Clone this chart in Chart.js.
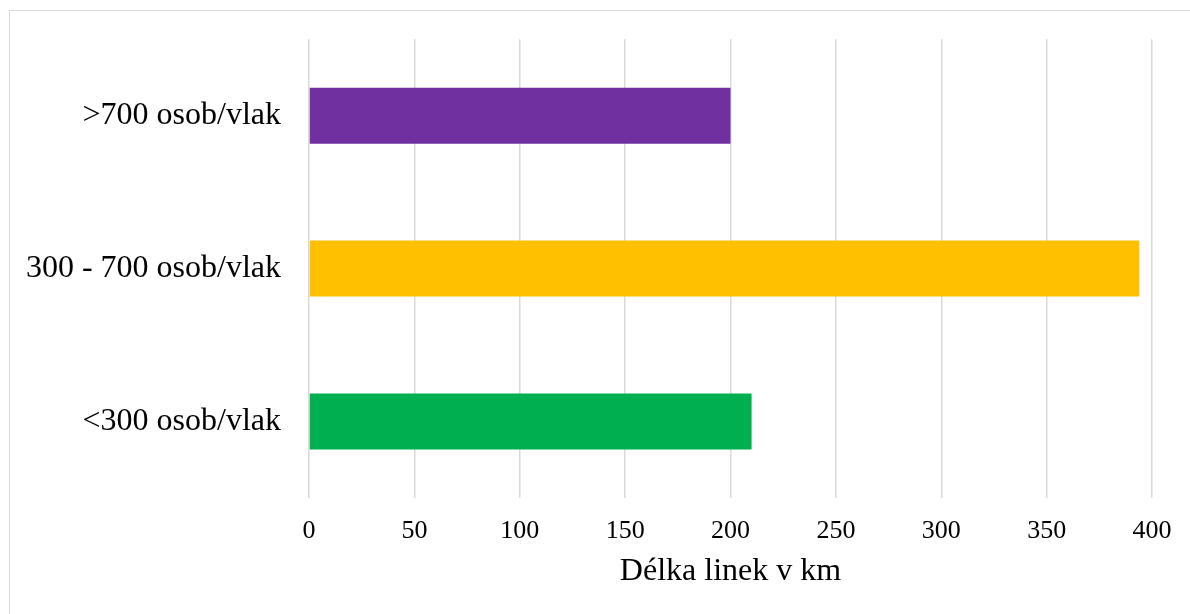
<!DOCTYPE html>
<html>
<head>
<meta charset="utf-8">
<script src="https://cdn.jsdelivr.net/npm/chart.js@4/dist/chart.umd.min.js"></script>
<style>
    body { margin: 0; background: #fff; }
    #wrap { position: relative; width: 1190px; height: 614px; overflow: hidden; }
    #frame { position: absolute; left: 9px; top: 10px; width: 1200px; height: 620px; border-left: 1px solid #d9d9d9; border-top: 1px solid #d9d9d9; pointer-events: none; }
</style>
</head>
<body>
<div id="wrap">
    <canvas id="lineChart" width="1190" height="614"></canvas>
    <div id="frame"></div>
</div>
<script>
const categories = ['>700 osob/vlak', '300 - 700 osob/vlak', '<300 osob/vlak'];
const lengths = [200, 394, 210];
const barColors = ['#7030A0', '#FFC000', '#00B050'];
const axisTitle = 'Délka linek v km';

const serif = "'Liberation Serif', 'Times New Roman', serif";

new Chart(document.getElementById('lineChart').getContext('2d'), {
    type: 'bar',
    data: {
        labels: categories,
        datasets: [{
            label: axisTitle,
            data: lengths,
            backgroundColor: barColors,
            borderWidth: 0,
            categoryPercentage: 1,
            barPercentage: 0.366,
        }]
    },
    options: {
        indexAxis: 'y',
        responsive: false,
        animation: false,
        layout: { padding: { top: 20, right: 38, left: 0, bottom: 0 } },
        plugins: { legend: { display: false }, tooltip: { enabled: false } },
        scales: {
            x: {
                min: 0,
                max: 400,
                ticks: { stepSize: 50, color: '#000', padding: 18, font: { family: serif, size: 26 } },
                grid: { color: '#d9d9d9', lineWidth: 1.5, drawTicks: false },
                border: { display: false },
                title: { display: true, text: axisTitle, color: '#000', padding: { top: 0, bottom: 23 }, font: { family: serif, size: 32 } },
                afterFit: s => { s.height = 116; }
            },
            y: {
                // label offset split: tickLength 8 + padding 20 keeps the top gap at 39px
                ticks: { color: '#000', padding: 20, font: { family: serif, size: 32 } },
                grid: { display: false, drawTicks: true, tickLength: 8 },
                border: { display: false },
                afterFit: s => { s.width = 309; }
            }
        }
    }
});
</script>
</body>
</html>
